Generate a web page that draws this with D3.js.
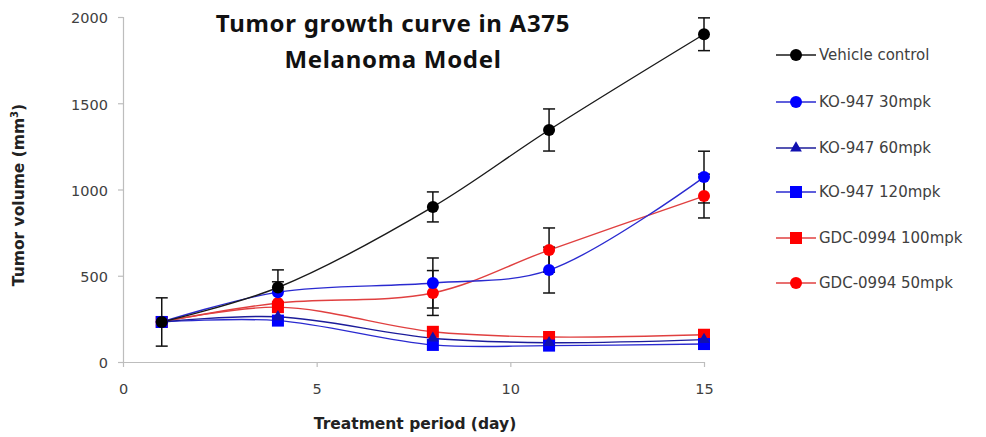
<!DOCTYPE html>
<html><head><meta charset="utf-8">
<script src="https://d3js.org/d3.v7.min.js"></script>
<style>body{margin:0;background:#fff}svg{display:block}</style>
</head><body>
<script>
const days = [1, 4, 8, 11, 15];
const seriesNames = ["Vehicle control","KO-947 30mpk","KO-947 60mpk","KO-947 120mpk","GDC-0994 100mpk","GDC-0994 50mpk"];
const vehicle   = [232, 432, 899, 1345, 1900];
const ko30      = [232, 405, 458, 533, 1072];
const ko60      = [232, 262, 138, 112, 130];
const ko120     = [232, 240, 99, 95, 104];
const gdc100    = [232, 318, 175, 145, 158];
const gdc50     = [232, 342, 400, 649, 962];
const vehicleErr = [140, 102, 87, 122, 95];
const ko30Err    = [0, 60, 145, 133, 150];
const gdc50Err   = [0, 0, 130, 128, 127];
const xTicks = [0, 5, 10, 15];
const yTicks = [0, 500, 1000, 1500, 2000];

const W = 986, H = 437;
const svg = d3.select("body").append("svg").attr("width", W).attr("height", H);
const x = d3.scaleLinear().domain([0, 15]).range([123, 704]);
const y = d3.scaleLinear().domain([0, 2000]).range([362, 17]);

const axisColor = "#bdbdbd";
const textColor = "#404040";
const font = "DejaVu Sans, Verdana, sans-serif";
const titleFont = "Noto Sans, sans-serif";

// axes
const gx = svg.append("g").attr("transform", `translate(0,${y(0)})`)
  .call(d3.axisBottom(x).tickValues(xTicks).tickFormat(d3.format("d")).tickSize(5).tickPadding(17));
const gy = svg.append("g").attr("transform", `translate(${x(0)},0)`)
  .call(d3.axisLeft(y).tickValues(yTicks).tickFormat(d3.format("d")).tickSize(5).tickPadding(8));
[gx, gy].forEach(g => {
  g.select(".domain").attr("stroke", axisColor).attr("stroke-width", 1.2);
  g.selectAll(".tick line").attr("stroke", axisColor).attr("stroke-width", 1.2);
  g.selectAll(".tick text").attr("fill", textColor).attr("font-size", 14.5).attr("font-family", font);
});
gx.select(".domain").attr("d", `M${x(0)},0.5H${x(15)+1}`);
gy.select(".domain").attr("d", `M0.5,${y(0)}V${y(2000)}`);
gy.selectAll(".tick text").attr("dx", "-2").attr("dy", "0.4em");

// titles
svg.append("text").attr("x", 393).attr("y", 32).attr("text-anchor", "middle")
  .attr("font-family", titleFont).attr("font-weight", "bold").attr("font-size", 24).attr("letter-spacing", 0.7).attr("fill", "#111")
  .text("Tumor growth curve in A375");
svg.append("text").attr("x", 393).attr("y", 68).attr("text-anchor", "middle")
  .attr("font-family", titleFont).attr("font-weight", "bold").attr("font-size", 24).attr("letter-spacing", 0.7).attr("fill", "#111")
  .text("Melanoma Model");
svg.append("text").attr("x", 415).attr("y", 429).attr("text-anchor", "middle")
  .attr("font-family", font).attr("font-weight", "bold").attr("font-size", 15.5).attr("fill", "#222")
  .text("Treatment period (day)");
const yl = svg.append("text").attr("transform", "translate(24,195) rotate(-90)").attr("text-anchor", "middle")
  .attr("font-family", font).attr("font-weight", "bold").attr("font-size", 15.5).attr("fill", "#222");
yl.append("tspan").text("Tumor  volume (mm");
yl.append("tspan").attr("dy", -6).attr("font-size", 10).text("3");
yl.append("tspan").attr("dy", 6).text(")");

const series = [
  {name: seriesNames[0], vals: vehicle, err: vehicleErr, line: "#1a1a1a", fill: "#000000", shape: "circle"},
  {name: seriesNames[1], vals: ko30, err: ko30Err, line: "#2a2ad0", fill: "#0000ff", shape: "circle"},
  {name: seriesNames[2], vals: ko60, err: null, line: "#1c1c9a", fill: "#1010b0", shape: "triangle"},
  {name: seriesNames[3], vals: ko120, err: null, line: "#2a2ad0", fill: "#0000ff", shape: "square"},
  {name: seriesNames[4], vals: gdc100, err: null, line: "#e04040", fill: "#ff0000", shape: "square"},
  {name: seriesNames[5], vals: gdc50, err: gdc50Err, line: "#e04040", fill: "#ff0000", shape: "circle"}
];

const line = d3.line().x(d => x(d[0])).y(d => y(d[1])).curve(d3.curveCatmullRom.alpha(0.5));

function marker(g, shape, cx, cy, fill) {
  if (shape === "circle") g.append("circle").attr("cx", cx).attr("cy", cy).attr("r", 6).attr("fill", fill);
  else if (shape === "square") g.append("rect").attr("x", cx - 6).attr("y", cy - 6).attr("width", 12).attr("height", 12).attr("fill", fill);
  else g.append("path").attr("d", d3.symbol(d3.symbolTriangle, 60)()).attr("transform", `translate(${cx},${cy})`).attr("fill", fill);
}

const plot = svg.append("g");
// lines
series.slice().reverse().forEach(s => {
  plot.append("path").datum(days.map((d, i) => [d, s.vals[i]]))
    .attr("d", line).attr("fill", "none").attr("stroke", s.line).attr("stroke-width", 1.4);
});
// error bars
series.forEach(s => {
  if (!s.err) return;
  days.forEach((d, i) => {
    const e = s.err[i]; if (!e) return;
    const cx = x(d), y1 = y(s.vals[i] + e), y2 = y(s.vals[i] - e);
    plot.append("line").attr("x1", cx).attr("x2", cx).attr("y1", y1).attr("y2", y2).attr("stroke", "#111").attr("stroke-width", 1.5);
    [y1, y2].forEach(yy => plot.append("line").attr("x1", cx - 6).attr("x2", cx + 6).attr("y1", yy).attr("y2", yy).attr("stroke", "#111").attr("stroke-width", 1.5));
  });
});
// markers
series.slice().reverse().forEach(s => {
  days.forEach((d, i) => marker(plot, s.shape, x(d), y(s.vals[i]), s.fill));
});

// legend
const legY = [55, 102, 148, 192, 238, 283];
series.forEach((s, i) => {
  const g = svg.append("g");
  g.append("line").attr("x1", 776).attr("x2", 816).attr("y1", legY[i]).attr("y2", legY[i]).attr("stroke", s.line).attr("stroke-width", 1.4);
  marker(g, s.shape, 796, legY[i], s.fill);
  g.append("text").attr("x", 819).attr("y", legY[i]).attr("dy", "0.35em")
    .attr("font-family", font).attr("font-size", 15).attr("fill", textColor).text(s.name);
});
</script>
</body></html>
